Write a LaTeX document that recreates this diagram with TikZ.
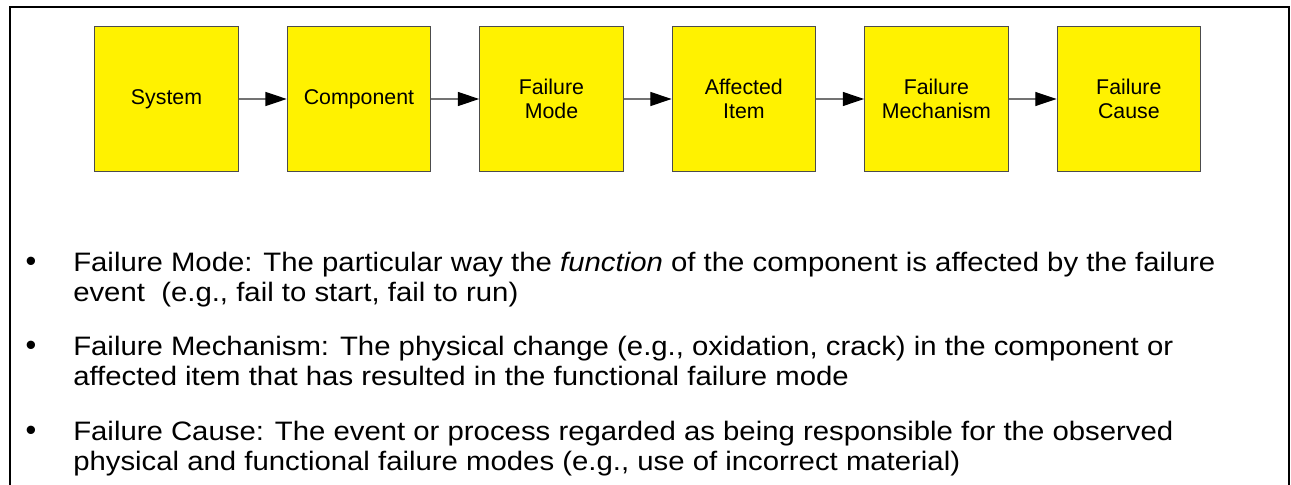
\documentclass[tikz,border=0pt]{standalone}
\usepackage{fontspec}
\setmainfont{Liberation Sans}
\newfontfamily\listfont[FakeStretch=1.1]{Liberation Sans}
\usetikzlibrary{arrows.meta, positioning}

\begin{document}
\begin{tikzpicture}[
    x=0.75pt, y=-0.75pt,
    >={Triangle[length=16pt, width=10.5pt, black]},
    stagebox/.style={draw=black!70, line width=0.75pt, fill=yellow,
                     minimum width=107.6pt, minimum height=108pt, inner sep=0pt,
                     align=center, font=\fontsize{16}{18}\selectfont},
    flowline/.style={->, draw=black!55, line width=0.9pt},
    bullettext/.style={anchor=base west, align=left, inner sep=0pt,
                       font=\listfont\fontsize{20}{22.5}\selectfont},
    bulletdot/.style={anchor=base, inner sep=0pt, font=\fontsize{23}{23}\selectfont}
  ]
  \useasboundingbox (0,0) rectangle (1291,485);
  \draw[line width=1.2pt] (10,485) -- (10,7) -- (1289,7) -- (1289,485);

  \node[stagebox] (sys) at (166.5,99) {System};
  \node[stagebox, right=36pt of sys] (comp) {Component};
  \node[stagebox, right=36pt of comp] (fmode) {Failure\\ Mode};
  \node[stagebox, right=36pt of fmode] (aitem) {Affected\\ Item};
  \node[stagebox, right=36pt of aitem] (fmech) {Failure\\ Mechanism};
  \node[stagebox, right=36pt of fmech] (fcause) {Failure\\ Cause};

  \draw[flowline] (sys) -- (comp);
  \draw[flowline] (comp) -- (fmode);
  \draw[flowline] (fmode) -- (aitem);
  \draw[flowline] (aitem) -- (fmech);
  \draw[flowline] (fmech) -- (fcause);

  \node[bulletdot] (modedot) at (31,271) {\textbullet};
  \node[bullettext] (modetxt) at (73,301)
    {Failure Mode: The particular way the \textit{function} of the component is affected by the failure\\
     event\ \ (e.g., fail to start, fail to run)};
  \node[bulletdot] (mechdot) at (31,355) {\textbullet};
  \node[bullettext] (mechtxt) at (73,385)
    {Failure Mechanism: The physical change (e.g., oxidation, crack) in the component or\\
     affected item that has resulted in the functional failure mode};
  \node[bulletdot] (causedot) at (31,440) {\textbullet};
  \node[bullettext] (causetxt) at (73,470)
    {Failure Cause: The event or process regarded as being responsible for the observed\\
     physical and functional failure modes (e.g., use of incorrect material)};
\end{tikzpicture}
\end{document}
